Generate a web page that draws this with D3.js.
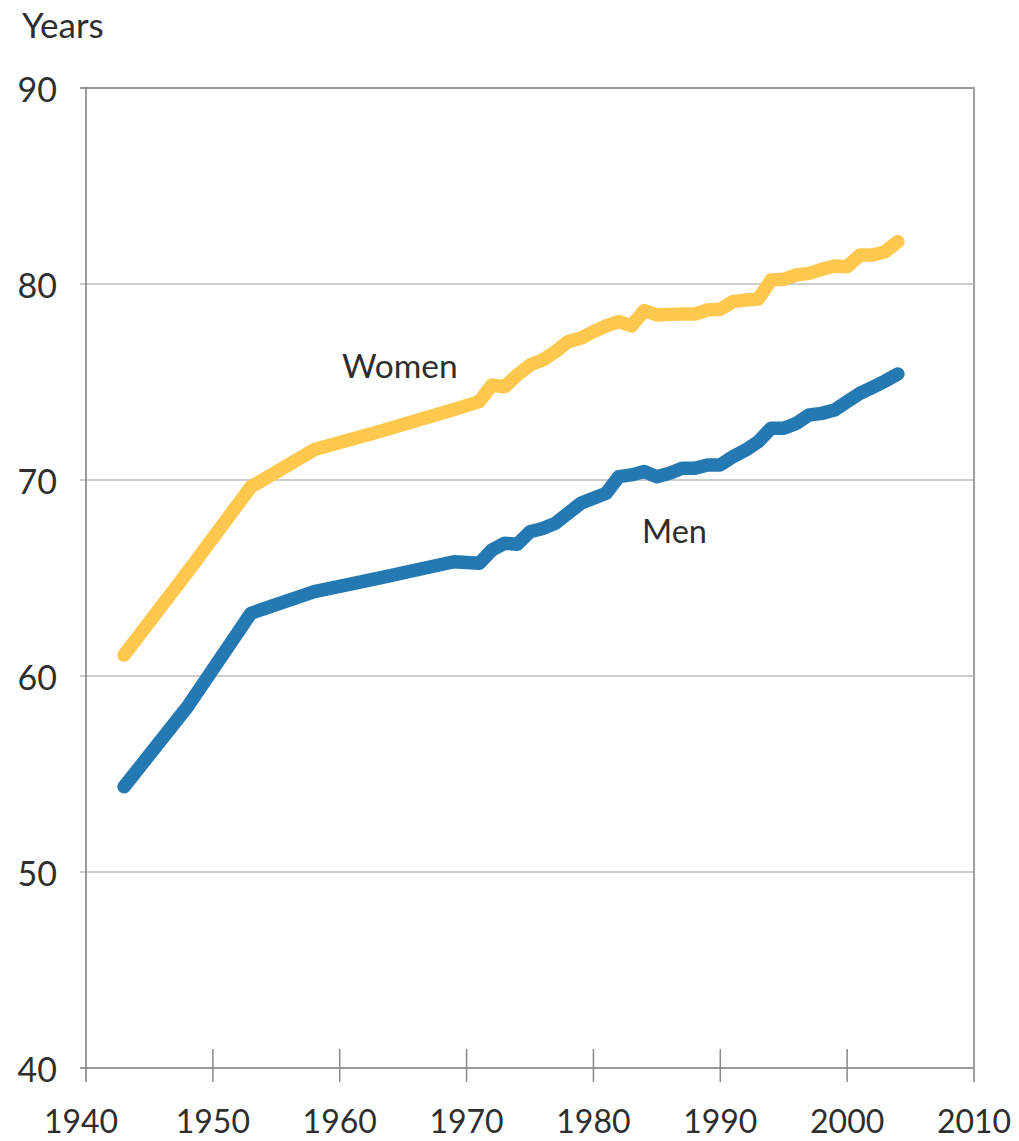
<!DOCTYPE html>
<html>
<head>
<meta charset="utf-8">
<script src="https://cdn.jsdelivr.net/npm/d3@7"></script>
<style>
  html, body { margin: 0; padding: 0; background: #fff; }
  svg { display: block; }
  text { font-family: Lato, "Open Sans", sans-serif; fill: #2e2e2e; }
</style>
</head>
<body>
<svg id="chart" width="1019" height="1141"></svg>
<script>
// ---- Data ----
const years = [1943, 1948, 1953, 1958, 1963, 1969,
  1971, 1972, 1973, 1974, 1975, 1976, 1977, 1978, 1979, 1980,
  1981, 1982, 1983, 1984, 1985, 1986, 1987, 1988, 1989, 1990,
  1991, 1992, 1993, 1994, 1995, 1996, 1997, 1998, 1999, 2000,
  2001, 2002, 2003, 2004];

const women = [61.07, 65.3, 69.65, 71.55, 72.45, 73.6,
  74.0, 74.85, 74.76, 75.36, 75.87, 76.12, 76.55, 77.06, 77.23, 77.57,
  77.86, 78.08, 77.86, 78.64, 78.42, 78.45, 78.47, 78.47, 78.67, 78.71,
  79.1, 79.18, 79.23, 80.2, 80.24, 80.46, 80.54, 80.75, 80.92, 80.88,
  81.48, 81.48, 81.65, 82.16];

const men = [54.35, 58.43, 63.2, 64.3, 64.98, 65.83,
  65.75, 66.43, 66.77, 66.72, 67.36, 67.53, 67.79, 68.3, 68.81, 69.07,
  69.32, 70.17, 70.26, 70.43, 70.17, 70.34, 70.6, 70.6, 70.77, 70.77,
  71.19, 71.53, 71.96, 72.64, 72.64, 72.89, 73.32, 73.4, 73.57, 74.0,
  74.42, 74.73, 75.05, 75.41];

const xTicks = [1940, 1950, 1960, 1970, 1980, 1990, 2000, 2010];
const yTicks = [40, 50, 60, 70, 80, 90];
const seriesNames = ["Women", "Men"];
const yAxisTitle = "Years";

// ---- Layout ----
const svg = d3.select("#chart");
const mL = 86, mR = 974, mT = 88, mB = 1068;

const x = d3.scaleLinear().domain([1940, 2010]).range([mL, mR]);
const y = d3.scaleLinear().domain([40, 90]).range([mB, mT]);

// horizontal gridlines (with small outer tick to the left)
const gY = svg.append("g");
gY.selectAll("line.grid").data(yTicks.filter(d => d !== 40)).join("line")
  .attr("x1", mL - 6).attr("x2", mR)
  .attr("y1", d => y(d)).attr("y2", d => y(d))
  .attr("stroke", d => d === 90 ? "#9a9a9a" : "#bdbdbd")
  .attr("stroke-width", d => d === 90 ? 2 : 1.5);

// y labels
gY.selectAll("text").data(yTicks).join("text")
  .attr("x", mL - 29).attr("y", d => y(d))
  .attr("text-anchor", "end").attr("dominant-baseline", "central")
  .style("font-size", "34px")
  .text(d => d);

// right border
svg.append("line")
  .attr("x1", mR).attr("x2", mR)
  .attr("y1", mT - 1).attr("y2", mB + 14)
  .attr("stroke", "#a0a0a0").attr("stroke-width", 2);

// x axis baseline
svg.append("line")
  .attr("x1", mL - 6).attr("x2", mR)
  .attr("y1", mB).attr("y2", mB)
  .attr("stroke", "#9a9a9a").attr("stroke-width", 2);

// x ticks
svg.append("g").selectAll("line").data(xTicks.filter(d => d !== 1940 && d !== 2010)).join("line")
  .attr("x1", d => x(d)).attr("x2", d => x(d))
  .attr("y1", mB - 19).attr("y2", mB + 14)
  .attr("stroke", "#8a8a8a").attr("stroke-width", 1.5);

// x labels
svg.append("g").selectAll("text").data(xTicks).join("text")
  .attr("x", d => d === 1940 ? x(d) - 5 : x(d)).attr("y", 1133)
  .attr("text-anchor", "middle")
  .style("font-size", "32px")
  .text(d => d);

// left axis line
svg.append("line")
  .attr("x1", mL).attr("x2", mL)
  .attr("y1", mT - 1).attr("y2", mB + 14)
  .attr("stroke", "#7a7a7a").attr("stroke-width", 1.5);

// lines
const line = d3.line().x((d, i) => x(years[i])).y(d => y(d)).curve(d3.curveLinear);
const colors = ["#fec84e", "#2479b3"];
[women, men].forEach((s, k) => {
  svg.append("path").datum(s)
    .attr("d", line)
    .attr("fill", "none")
    .attr("stroke", colors[k])
    .attr("stroke-width", 13.5)
    .attr("stroke-linejoin", "round")
    .attr("stroke-linecap", "round");
});

// series labels
svg.append("text").attr("x", 342).attr("y", 378).style("font-size", "33.5px").text(seriesNames[0]);
svg.append("text").attr("x", 642).attr("y", 543).style("font-size", "32.5px").text(seriesNames[1]);

// y axis title
svg.append("text").attr("x", 22).attr("y", 38).style("font-size", "35px").text(yAxisTitle);
</script>
</body>
</html>
